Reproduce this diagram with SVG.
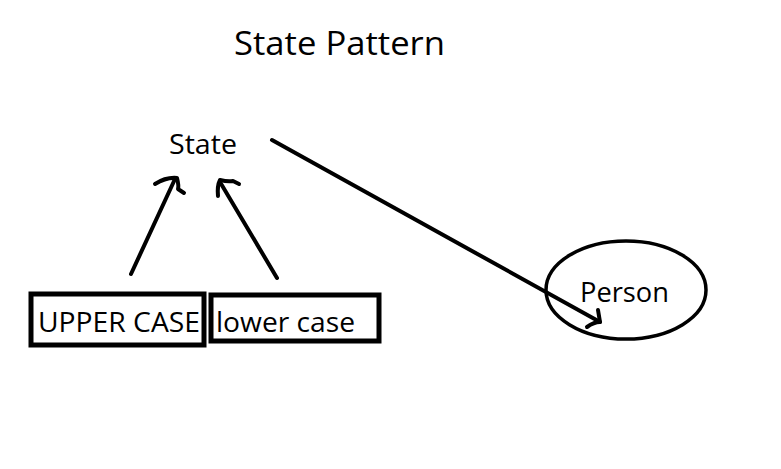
<svg xmlns="http://www.w3.org/2000/svg" width="781" height="469" viewBox="0 0 781 469">
<style>
text{font-family:"Open Sans","Noto Sans","Liberation Sans",sans-serif;fill:#000}
.box{fill:none;stroke:#000;stroke-width:5}
.ln{fill:none;stroke:#000;stroke-width:4;stroke-linecap:round;stroke-linejoin:round}
</style>
<rect width="781" height="469" fill="#fff"/>
<text x="234" y="55" font-size="32" textLength="211" lengthAdjust="spacingAndGlyphs">State Pattern</text>
<g id="state"><text x="169" y="154" font-size="28" textLength="68" lengthAdjust="spacingAndGlyphs">State</text></g>
<g id="upper"><rect class="box" x="31" y="294" width="173" height="51"/><text x="38" y="332" font-size="28" textLength="162" lengthAdjust="spacingAndGlyphs">UPPER CASE</text></g>
<g id="lower"><rect class="box" x="211" y="295" width="168" height="46"/><text x="216" y="332" font-size="28" textLength="139" lengthAdjust="spacingAndGlyphs">lower case</text></g>
<g id="person"><ellipse cx="626" cy="290" rx="80" ry="49" fill="none" stroke="#000" stroke-width="3.5"/><text x="580" y="302" font-size="27" textLength="89" lengthAdjust="spacingAndGlyphs">Person</text></g>
<g id="connectors">
<path class="ln" d="M131 274 L175 179"/>
<path class="ln" d="M155 184 Q166 177 177 178 Q179 186 178 189 L184 193"/>
<path class="ln" d="M277 278 L220 182"/>
<path class="ln" d="M218 196 Q217 186 220 180 Q228 182 233 181 L239 184"/>
<path class="ln" d="M272 140 L600 322"/>
<path class="ln" d="M598 310 L600 322 Q594 322 587 327"/>
</g>
</svg>
